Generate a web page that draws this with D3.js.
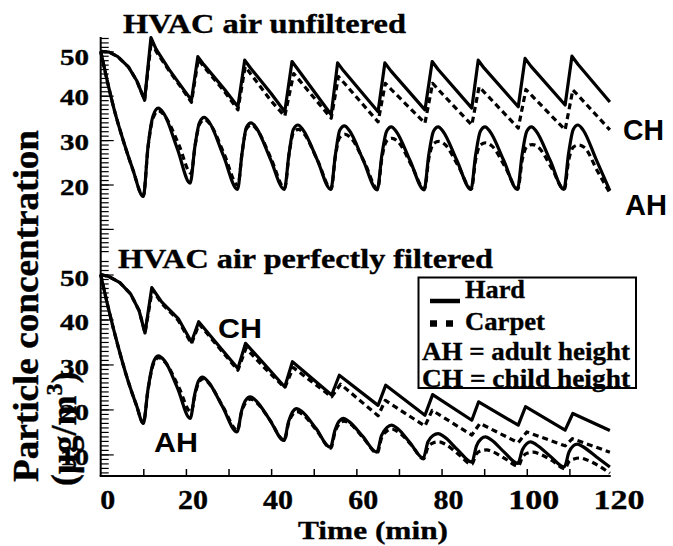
<!DOCTYPE html>
<html><head><meta charset="utf-8">
<script src="https://cdn.jsdelivr.net/npm/d3@7"></script>
<style>html,body{margin:0;padding:0;background:#fff;} svg{display:block;}</style>
</head><body><svg id="c" width="673" height="546"></svg>
<script>
// ---------------- data ----------------
const panelTitles = ["HVAC air unfiltered", "HVAC air perfectly filtered"];
const xTickLabels = [0, 20, 40, 60, 80, 100, 120];
const xTicks = [10, 20, 30, 40, 50, 60, 70, 80, 90, 100, 110];
const topYLabels = [20, 30, 40, 50];
const botYLabels = [10, 20, 30, 40, 50];
const legendSeries = ["Hard", "Carpet"];
const legendNotes = ["AH = adult height", "CH = child height"];
const heightLabels = ["CH", "AH"];

// Top panel: HVAC air unfiltered  [time (min), concentration]
const topCHHard = [[0,50],[2,49.8],[4,48.8],[6.5,46.5],[8.5,43.3],[10.3,39],[11.8,53.1],[13,50.5],[16,46],[19,42],[21.3,39],
  [22.8,48.8],[24.2,47.0],[29,41.5],[32.2,37.5],[33.8,48.0],[35.2,46.2],[40,40.5],[43.2,36.4],[44.9,47.7],[46.3,45.9],[54.1,35.7],
  [55.6,47.4],[57.0,45.6],[65.1,36.4],[66.7,47.4],[68.1,45.6],[76.1,36.8],[77.8,47.7],[79.2,45.9],[87.1,37.2],[88.6,48.0],[90.0,46.2],
  [98.0,37.5],[99.6,48.4],[101.0,46.6],[109.0,37.9],[110.6,48.9],[112.0,47.1],[119.5,38.6]];
const topCHCarpet = [[0,50],[2,49.8],[4,48.8],[6.5,46.5],[8.5,43.3],[10.3,39],[11.9,52.5],[13,50],[16,45.7],[19,41.7],[21.3,38.5],
  [22.9,48.2],[24.3,46.4],[29,41],[32.2,36.8],[33.9,46.5],[35.3,44.8],[40,38.8],[43.2,35.4],[45.3,45.0],[46.7,43.4],[54.1,34.9],
  [55.8,44.3],[57.2,42.8],[65.1,34.1],[66.8,42.8],[68.2,41.4],[76.1,33.8],[77.9,42.8],[79.3,41.3],[87.1,33.4],[88.8,42.0],[90.2,40.6],
  [98.0,32.7],[99.8,41.4],[101.2,40.0],[109.0,32.3],[110.8,41.3],[112.2,39.9],[119.5,32.3]];
const topAHHard = [[0,50],[1.5,43.5],[3,37.5],[5,30.8],[7.5,23.5],[10.0,17.3],[11.1,28.5],[12.3,35.5],[13.5,37.2],[14.8,36.0],[18,28],[21.0,20.3],
  [22.1,28.5],[23.2,34.0],[24.3,35.1],[25.5,34.0],[28.8,26.5],[32.1,18.9],
  [33.2,27.2],[34.2,32.9],[35.3,33.9],[36.5,32.8],[39.8,25.8],[43.1,18.9],
  [44.2,26.9],[45.2,32.4],[46.3,33.4],[47.5,32.3],[50.8,25.6],[54.0,18.9],
  [55.1,26.8],[56.1,32.2],[57.2,33.2],[58.4,32.1],[61.6,25.5],[64.9,18.8],
  [66.0,26.7],[67.1,32.0],[68.2,33.0],[69.4,31.9],[72.6,25.4],[75.9,18.8],
  [77.0,26.7],[78.1,32.0],[79.2,33.0],[80.4,31.9],[83.6,25.4],[86.9,18.9],
  [88.0,26.7],[89.1,32.0],[90.2,33.0],[91.4,31.9],[94.6,25.4],[97.8,18.9],
  [98.9,26.7],[100.0,32.0],[101.1,33.0],[102.3,31.9],[105.5,25.4],[108.7,18.9],
  [109.8,26.9],[110.9,32.4],[112.0,33.4],[113.2,32.3],[116.3,25.6],[119.5,18.6]];
const topAHCarpet = [[0,50],[1.5,43.5],[3,37.5],[5,30.8],[7.5,23.5],[10.0,17.4],[11.1,28.3],[12.3,35.0],[13.6,36.6],[15.2,35.2],[18.4,28.8],[21.2,22.5],
  [22.2,29.0],[23.2,33.6],[24.4,34.6],[25.8,33.4],[29.0,26.8],[32.2,19.8],
  [33.2,27.3],[34.2,32.5],[35.4,33.4],[36.8,32.2],[40.0,25.8],[43.2,19.2],
  [44.2,26.8],[45.2,31.6],[46.4,32.4],[47.8,31.3],[51.0,25.2],[54.1,19.0],
  [55.1,26.5],[56.1,30.6],[57.4,31.3],[58.8,30.4],[62.0,24.8],[65.0,19.0],
  [66.0,26.0],[67.1,29.8],[68.4,30.4],[69.8,29.6],[73.0,24.2],[76.0,19.0],
  [77.0,25.8],[78.1,29.2],[79.4,29.7],[80.8,29.0],[84.0,24.0],[87.0,19.0],
  [88.0,25.6],[89.1,28.9],[90.4,29.4],[91.8,28.7],[95.0,23.8],[97.9,19.0],
  [98.9,25.4],[100.0,28.5],[101.3,29.0],[102.7,28.4],[105.9,23.6],[108.8,18.9],
  [109.8,25.3],[110.9,28.4],[112.2,28.9],[113.6,28.3],[116.6,23.0],[119.5,18.1]];

// Bottom panel: HVAC air perfectly filtered
const botCHHard = [[0,50],[2,49.5],[4.5,48.2],[7,45.7],[9,42],[10.4,37.0],[12.0,47.1],[14.3,43.9],[18.2,40.2],[21.3,35.0],
  [23.0,39.5],[27.5,34.4],[32.2,29.1],[34.0,34.7],[38.5,30.0],[43.2,25.0],[45.0,30.6],[54.2,23.2],[56.0,27.6],[65.1,20.9],
  [66.9,25.4],[76.1,18.7],[77.9,23.3],[87.1,17.6],[88.7,21.7],[98.0,16.5],[99.7,20.6],[109.0,15.4],[110.8,19.1],[119.5,15.3]];
const botCHCarpet = [[0,50],[2,49.5],[4.5,48.2],[7,45.7],[9,42],[10.4,37.0],[12.1,46.6],[14.3,43.6],[18.2,39.8],[21.3,34.6],
  [23.1,39.0],[27.5,34.0],[32.2,28.7],[34.1,33.6],[38.5,29.2],[43.2,24.8],[45.2,29.3],[54.2,22.8],[56.3,25.6],[65.1,18.6],
  [66.8,22.0],[76.1,16.3],[77.8,19.8],[87.1,14.3],[89.0,16.9],[98.0,12.6],[100.0,15.0],[109.0,11.9],[110.7,13.5],[119.5,10.5]];
const botAHHard = [[0,50],[1.8,42.5],[4.2,33.6],[6.5,26.1],[8.4,20.9],[10.0,16.9],[11.1,24.5],[12.3,30.3],[13.5,31.9],[15.0,30.8],[18.0,24.8],[21.0,18.0],
  [22.1,23.5],[22.9,26.2],[23.9,27.2],[25.2,26.2],[28.5,20.8],[32.0,15.0],
  [33.1,19.8],[34.0,22.0],[35.1,22.8],[36.4,22.0],[39.6,17.8],[43.0,13.1],
  [44.1,17.3],[45.0,19.4],[46.0,20.2],[47.3,19.5],[50.5,15.8],[53.9,11.6],
  [55.0,15.4],[55.9,17.3],[57.0,18.0],[58.3,17.3],[61.5,14.0],[64.8,10.5],
  [65.9,14.2],[67.2,16.0],[68.3,16.5],[69.6,15.8],[72.6,12.6],[75.7,9.2],
  [76.8,12.8],[78.0,14.2],[79.2,14.6],[80.5,14.0],[83.8,11.0],[87.1,8.3],
  [88.2,11.9],[89.3,13.5],[90.3,13.9],[91.6,13.3],[94.7,10.5],[97.9,8.0],
  [99.0,11.1],[100.0,12.4],[100.9,12.8],[102.2,12.2],[105.5,9.6],[108.8,7.2],
  [109.9,10.5],[110.9,11.9],[111.9,12.3],[113.2,11.7],[116.3,9.5],[119.5,7.2]];
const botAHCarpet = [[0,50],[1.8,42.5],[4.2,33.6],[6.5,26.1],[8.4,20.9],[10.0,17.0],[11.1,24.3],[12.3,29.9],[13.6,31.5],[15.2,30.4],[18.3,25.0],[21.2,19.4],
  [22.2,23.6],[23.0,25.9],[24.0,26.8],[25.4,25.8],[28.7,20.6],[32.1,15.4],
  [33.1,19.6],[34.1,21.6],[35.2,22.3],[36.6,21.5],[39.8,17.5],[43.1,13.1],
  [44.1,17.0],[45.1,18.9],[46.1,19.5],[47.5,18.8],[50.7,15.3],[54.0,11.4],
  [55.0,15.0],[56.0,16.8],[57.1,17.4],[58.5,16.8],[61.7,13.6],[64.9,10.3],
  [65.9,13.6],[67.2,15.2],[68.4,15.6],[69.8,15.0],[73.0,12.0],[75.8,9.0],
  [76.8,11.6],[78.1,12.6],[79.4,12.8],[80.8,12.3],[84.0,10.0],[87.1,7.8],
  [88.1,10.0],[89.3,10.8],[90.6,11.0],[92.0,10.6],[95.0,9.0],[98.0,7.4],
  [99.0,9.4],[100.2,10.3],[101.5,10.5],[103.0,10.1],[106.0,8.6],[108.9,6.8],
  [109.9,8.4],[111.1,9.0],[112.4,9.2],[114.0,8.8],[117.0,7.4],[119.5,5.8]];

// ---------------- drawing ----------------
const SERIF = '"Liberation Serif","Times New Roman",Times,serif';
const SANS = '"Liberation Sans",Arial,Helvetica,sans-serif';
const svg = d3.select("#c");
svg.append("rect").attr("width", 673).attr("height", 546).attr("fill", "#fff");

const x = d3.scaleLinear().domain([0, 120]).range([100.7, 612]);
const yTop = d3.scaleLinear().domain([0, 50]).range([273.3, 51.3]);
const yBot = d3.scaleLinear().domain([5.2, 50]).range([476, 274.5]);

function txt(g, s, px, py, size, len, opts = {}) {
  const t = g.append("text").attr("x", px).attr("y", py)
    .attr("font-family", opts.family || SERIF).attr("font-weight", "bold")
    .attr("font-size", size).attr("fill", "#000").text(s);
  if (!opts.family) t.attr("stroke", "#000").attr("stroke-width", 0.35);
  if (len) t.attr("textLength", len).attr("lengthAdjust", "spacingAndGlyphs");
  return t;
}

// axis lines
svg.append("line").attr("x1", x(0)).attr("x2", x(0)).attr("y1", yTop(53.2)).attr("y2", yBot(5.2))
  .attr("stroke", "#000").attr("stroke-width", 2);
svg.append("line").attr("x1", x(0) - 1).attr("x2", x(119.7)).attr("y1", yBot(5.2)).attr("y2", yBot(5.2))
  .attr("stroke", "#000").attr("stroke-width", 2);

// y minor + major ticks via d3 axes
function yTicks(scale, minorVals, majorVals) {
  const gm = svg.append("g").attr("transform", `translate(${x(0)},0)`)
    .call(d3.axisLeft(scale).tickValues(minorVals).tickSizeInner(-8).tickSizeOuter(0).tickFormat(""));
  const gM = svg.append("g").attr("transform", `translate(${x(0)},0)`)
    .call(d3.axisLeft(scale).tickValues(majorVals).tickSizeInner(-13).tickSizeOuter(0).tickFormat(""));
  [gm, gM].forEach(g => { g.select(".domain").remove(); g.selectAll("line").attr("stroke", "#000").attr("stroke-width", 1.2); });
}
yTicks(yTop, d3.range(5, 54), [10, 20, 30, 40, 50]);
yTicks(yBot, d3.range(6, 54), [10, 20, 30, 40, 50]);

// y tick labels
const topLabelShift = {50: 6, 40: 1, 30: 2, 20: 2};
topYLabels.forEach(v => {
  txt(svg, String(v), 60, yTop(v) + 8 + topLabelShift[v], 24, 29);
});
botYLabels.forEach(v => {
  txt(svg, String(v), 60, yBot(v) + 11, 24, 29);
});

// x ticks
const gx = svg.append("g").attr("transform", `translate(0,${yBot(5.2)})`)
  .call(d3.axisBottom(x).tickValues(xTicks).tickSizeInner(-7).tickSizeOuter(0).tickFormat(""));
gx.select(".domain").remove();
gx.selectAll("line").attr("stroke", "#000").attr("stroke-width", 1.5);
xTickLabels.forEach(v => {
  const s = String(v);
  const w = s.length === 1 ? 15 : s.length === 2 ? 30 : 51;
  txt(svg, s, x(v) + 7 - w / 2, 509, 27, w);
});

// titles
txt(svg, panelTitles[0], 123, 33, 27, 283);
txt(svg, panelTitles[1], 118, 268, 27, 375);
txt(svg, "Time (min)", 298, 539, 26, 150);

// y axis title
svg.append("text").attr("transform", "translate(38,482) rotate(-90)")
  .attr("font-family", SERIF).attr("font-weight", "bold").attr("font-size", 36)
  .attr("stroke", "#000").attr("stroke-width", 0.4)
  .attr("textLength", 352).attr("lengthAdjust", "spacingAndGlyphs").text("Particle concentration");
const unit = svg.append("text").attr("transform", "translate(76,486) rotate(-90)")
  .attr("font-family", SERIF).attr("font-weight", "bold").attr("font-size", 36)
  .attr("stroke", "#000").attr("stroke-width", 0.4);
unit.append("tspan").text("(μg/m");
unit.append("tspan").attr("dy", -14).attr("font-size", 24).text("3");
unit.append("tspan").attr("dy", 14).text(")");

// lines
function draw(data, yScale, dashed, smooth) {
  const line = d3.line().x(d => x(d[0])).y(d => yScale(d[1]))
    .curve(smooth ? d3.curveMonotoneX : d3.curveLinear);
  svg.append("path").datum(data).attr("d", line).attr("fill", "none")
    .attr("stroke", "#000").attr("stroke-width", 3.2).attr("stroke-linejoin", "round")
    .attr("stroke-dasharray", dashed ? "6,4" : null);
}
draw(topCHCarpet, yTop, true, false);
draw(topAHCarpet, yTop, true, true);
draw(topCHHard, yTop, false, false);
draw(topAHHard, yTop, false, true);
draw(botCHCarpet, yBot, true, false);
draw(botAHCarpet, yBot, true, true);
draw(botCHHard, yBot, false, false);
draw(botAHHard, yBot, false, true);

// CH / AH labels
txt(svg, heightLabels[0], 623, 140, 30, 41, {family: SANS});
txt(svg, heightLabels[1], 625, 215, 30, 42, {family: SANS});
txt(svg, heightLabels[0], 218, 338, 28, 44, {family: SANS});
txt(svg, heightLabels[1], 154, 452, 28, 44, {family: SANS});

// legend
const lg = svg.append("g");
lg.append("rect").attr("x", 418.5).attr("y", 277.5).attr("width", 217.5).attr("height", 110.5)
  .attr("fill", "#fff").attr("stroke", "#000").attr("stroke-width", 2);
lg.append("line").attr("x1", 430).attr("x2", 460).attr("y1", 301).attr("y2", 301)
  .attr("stroke", "#000").attr("stroke-width", 4.5);
lg.append("line").attr("x1", 430).attr("x2", 460).attr("y1", 323.5).attr("y2", 323.5)
  .attr("stroke", "#000").attr("stroke-width", 6.5).attr("stroke-dasharray", "7,9");
txt(lg, legendSeries[0], 465, 298, 25, 60);
txt(lg, legendSeries[1], 465, 330, 25, 80);
txt(lg, legendNotes[0], 422, 360, 25, 208);
txt(lg, legendNotes[1], 422, 387, 25, 208);
</script>
</body></html>
